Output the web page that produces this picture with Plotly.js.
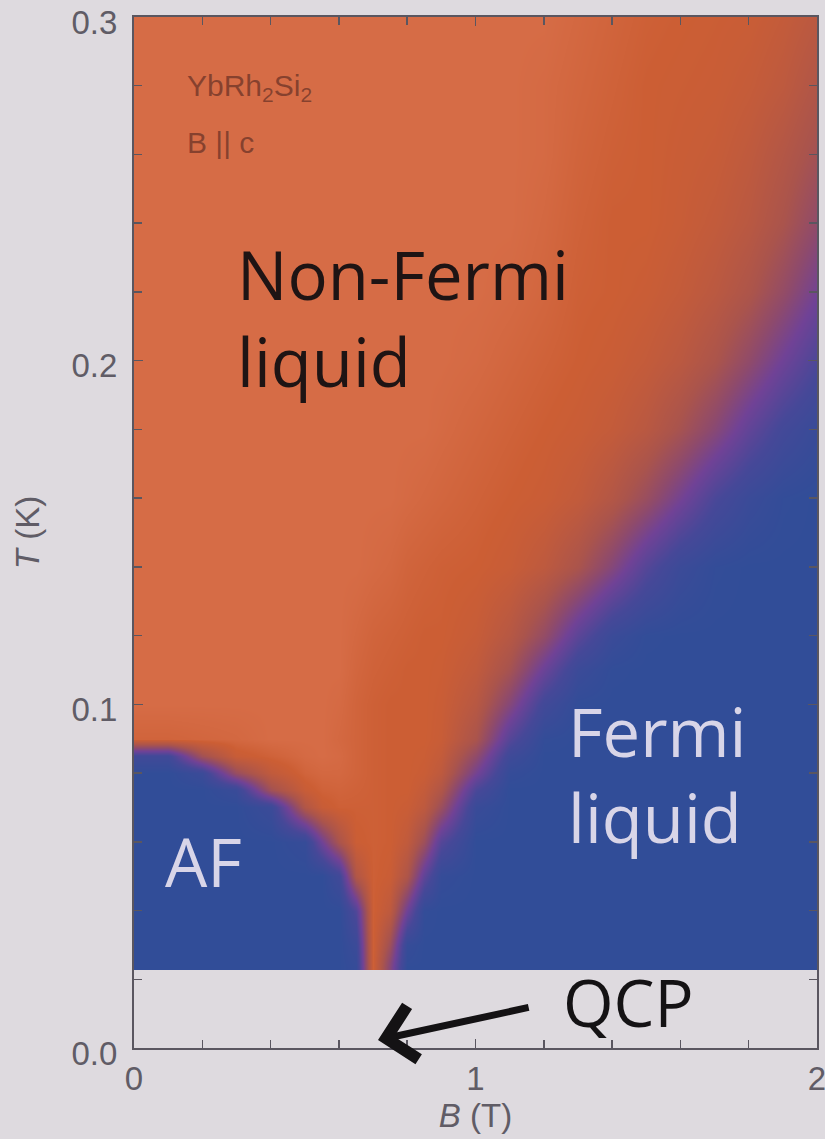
<!DOCTYPE html>
<html><head><meta charset="utf-8">
<script src="https://cdn.plot.ly/plotly-3.0.1.min.js"></script>
<style>html,body{margin:0;padding:0;background:#dedadf;} #chart{width:825px;height:1139px;}</style>
</head><body><div id="chart"></div>
<script>
// Magnetic field B (T) sample columns
const fieldB = [0, 0.1, 0.2, 0.3, 0.4, 0.5, 0.55, 0.6, 0.65, 0.7, 0.75, 0.8, 0.85, 0.9, 1.0, 1.1, 1.2, 1.3, 1.4, 1.5, 1.6, 1.7, 1.8, 1.9, 2.0];
// Temperature T (K) sample rows
const tempT = [0.0235, 0.025, 0.03, 0.04, 0.05, 0.06, 0.07, 0.075, 0.08, 0.085, 0.09, 0.10, 0.11, 0.12, 0.14, 0.16, 0.18, 0.20, 0.22, 0.24, 0.26, 0.28, 0.30];
// Resistivity exponent n read from the colour map (1 = non-Fermi liquid, 2 = Fermi liquid / AF), one row per temperature
const n_T0235 = [2,2,2,2,2,2,2,2,1.95,1.06,1.5,2,2,2,2,2,2,2,2,2,2,2,2,2,2];
const n_T025  = [2,2,2,2,2,2,2,2,1.94,1.06,1.48,1.98,2,2,2,2,2,2,2,2,2,2,2,2,2];
const n_T03   = [2,2,2,2,2,2,2,2,1.9,1.06,1.37,1.95,2,2,2,2,2,2,2,2,2,2,2,2,2];
const n_T04   = [2,2,2,2,2,2,2,2,1.75,1.06,1.17,1.61,1.98,2,2,2,2,2,2,2,2,2,2,2,2];
const n_T05   = [2,2,2,2,2,2,2,1.85,1.25,1.06,1.09,1.27,1.68,1.96,2,2,2,2,2,2,2,2,2,2,2];
const n_T06   = [2,2,2,2,2,1.95,1.6,1.3,1.08,1.06,1.07,1.15,1.37,1.73,2,2,2,2,2,2,2,2,2,2,2];
const n_T07   = [2,2,2,2,1.9,1.25,1.1,1.06,1.06,1.06,1.07,1.09,1.17,1.38,1.92,2,2,2,2,2,2,2,2,2,2];
const n_T075  = [2,2,2,1.92,1.35,1.1,1.05,1.04,1.05,1.06,1.07,1.07,1.13,1.26,1.78,2,2,2,2,2,2,2,2,2,2];
const n_T08   = [2,2,1.9,1.4,1.15,1.04,1.02,1.02,1.04,1.06,1.07,1.07,1.09,1.17,1.58,1.96,2,2,2,2,2,2,2,2,2];
const n_T085  = [1.85,1.85,1.35,1.1,1.05,1.01,1.0,1.01,1.04,1.06,1.07,1.07,1.08,1.13,1.44,1.87,2,2,2,2,2,2,2,2,2];
const n_T09   = [1.04,1.04,1.03,1.02,1.0,1.0,1.0,1.02,1.04,1.06,1.07,1.07,1.07,1.1,1.3,1.73,1.98,2,2,2,2,2,2,2,2];
const n_T10   = [1,1,1,1,1,1,1,1.01,1.04,1.06,1.07,1.07,1.07,1.09,1.21,1.5,1.84,1.99,2,2,2,2,2,2,2];
const n_T11   = [1,1,1,1,1,1,1,1,1.03,1.05,1.06,1.07,1.07,1.08,1.15,1.33,1.63,1.9,1.99,2,2,2,2,2,2];
const n_T12   = [1,1,1,1,1,1,1,1,1.02,1.04,1.05,1.06,1.07,1.07,1.11,1.22,1.42,1.7,1.91,1.99,2,2,2,2,2];
const n_T14   = [1,1,1,1,1,1,1,1,1,1.01,1.02,1.04,1.05,1.06,1.07,1.1,1.17,1.3,1.5,1.73,1.9,1.98,2,2,2];
const n_T16   = [1,1,1,1,1,1,1,1,1,1,1,1.01,1.02,1.03,1.05,1.07,1.09,1.14,1.24,1.39,1.58,1.78,1.91,1.98,2];
const n_T18   = [1,1,1,1,1,1,1,1,1,1,1,1,1,1.01,1.03,1.05,1.07,1.09,1.13,1.2,1.32,1.48,1.67,1.83,1.93];
const n_T20   = [1,1,1,1,1,1,1,1,1,1,1,1,1,1,1.01,1.03,1.05,1.07,1.09,1.13,1.19,1.29,1.44,1.61,1.77];
const n_T22   = [1,1,1,1,1,1,1,1,1,1,1,1,1,1,1,1.01,1.03,1.06,1.07,1.09,1.13,1.19,1.28,1.42,1.59];
const n_T24   = [1,1,1,1,1,1,1,1,1,1,1,1,1,1,1,1,1.02,1.05,1.07,1.07,1.1,1.14,1.2,1.3,1.44];
const n_T26   = [1,1,1,1,1,1,1,1,1,1,1,1,1,1,1,1,1.01,1.04,1.06,1.07,1.09,1.11,1.16,1.24,1.34];
const n_T28   = [1,1,1,1,1,1,1,1,1,1,1,1,1,1,1,1,1.01,1.03,1.05,1.07,1.08,1.09,1.12,1.17,1.26];
const n_T30   = [1,1,1,1,1,1,1,1,1,1,1,1,1,1,1,1,1,1.02,1.04,1.06,1.07,1.08,1.09,1.13,1.19];

const xTickVals = [0, 1, 2];
const xTickText = ['0', '1', '2'];
const yTickVals = [0, 0.1, 0.2, 0.3];
const yTickText = ['0.0', '0.1', '0.2', '0.3'];

const zRows = [n_T0235, n_T025, n_T03, n_T04, n_T05, n_T06, n_T07, n_T075, n_T08, n_T085, n_T09,
  n_T10, n_T11, n_T12, n_T14, n_T16, n_T18, n_T20, n_T22, n_T24, n_T26, n_T28, n_T30];

const trace = {
  type: 'heatmap', x: fieldB, y: tempT, z: zRows,
  zmin: 1, zmax: 2, zsmooth: 'best', showscale: false, hoverinfo: 'skip',
  colorscale: [
    [0, 'rgb(214,108,70)'],
    [0.07, 'rgb(204,94,52)'],
    [0.3, 'rgb(170,84,76)'],
    [0.45, 'rgb(142,74,108)'],
    [0.6, 'rgb(112,66,150)'],
    [0.8, 'rgb(70,72,152)'],
    [1, 'rgb(49,77,152)']
  ]
};

const axisCol = '#5a5660';
const tickFont = {family: 'Liberation Sans, Arial, sans-serif', size: 33, color: '#605c66'};
const big = {family: 'Open Sans, sans-serif', size: 67};

const layout = {
  width: 825, height: 1139,
  margin: {l: 134, r: 8, t: 17, b: 91},
  paper_bgcolor: '#dedadf', plot_bgcolor: '#dedadf',
  showlegend: false,
  font: {family: 'Liberation Sans, Arial, sans-serif', color: '#605c66'},
  xaxis: {
    range: [0, 2], tickvals: xTickVals, ticktext: xTickText,
    ticks: 'inside', ticklen: 9, tickwidth: 1.5, tickcolor: axisCol,
    showline: true, linecolor: axisCol, linewidth: 2, mirror: 'ticks',
    showgrid: false, zeroline: false, tickfont: tickFont, ticklabelstandoff: 0,
    ticklabeloverflow: 'allow',
    minor: {dtick: 0.2, ticks: 'inside', ticklen: 8, tickwidth: 1.5, tickcolor: axisCol, showgrid: false},
    title: {text: '<i>B</i> (T)', font: {size: 33, color: '#605c66'}, standoff: 4}
  },
  yaxis: {
    range: [0, 0.3], tickvals: yTickVals, ticktext: yTickText,
    ticks: 'inside', ticklen: 9, tickwidth: 1.5, tickcolor: axisCol,
    showline: true, linecolor: axisCol, linewidth: 2, mirror: 'ticks',
    showgrid: false, zeroline: false, tickfont: tickFont, ticklabelstandoff: 8,
    ticklabelshift: 5, ticklabeloverflow: 'allow',
    minor: {dtick: 0.02, ticks: 'inside', ticklen: 8, tickwidth: 1.5, tickcolor: axisCol, showgrid: false},
    title: {text: '<i>T</i> (K)', font: {size: 33, color: '#605c66'}, standoff: 22}
  },
  annotations: [
    {xref: 'x', yref: 'y', x: 0.149, y: 0.2796, xanchor: 'left', yanchor: 'middle', showarrow: false,
     text: 'YbRh<sub>2</sub>Si<sub>2</sub>', font: {family: 'Liberation Sans, Arial, sans-serif', size: 30, color: 'rgba(120,58,42,0.85)'}},
    {xref: 'x', yref: 'y', x: 0.149, y: 0.2636, xanchor: 'left', yanchor: 'middle', showarrow: false,
     text: 'B || c', font: {family: 'Liberation Sans, Arial, sans-serif', size: 30, color: 'rgba(120,58,42,0.85)'}},
    {xref: 'x', yref: 'y', x: 0.296, y: 0.2252, xanchor: 'left', yanchor: 'middle', showarrow: false,
     text: 'Non-Fermi', font: Object.assign({color: '#1e1414'}, big)},
    {xref: 'x', yref: 'y', x: 0.296, y: 0.1999, xanchor: 'left', yanchor: 'middle', showarrow: false,
     text: 'liquid', font: Object.assign({color: '#1e1414'}, big)},
    {xref: 'x', yref: 'y', x: 1.265, y: 0.0922, xanchor: 'left', yanchor: 'middle', showarrow: false,
     text: 'Fermi', font: Object.assign({color: '#d8d5e8'}, big)},
    {xref: 'x', yref: 'y', x: 1.265, y: 0.0672, xanchor: 'left', yanchor: 'middle', showarrow: false,
     text: 'liquid', font: Object.assign({color: '#d8d5e8'}, big)},
    {xref: 'x', yref: 'y', x: 0.085, y: 0.0544, xanchor: 'left', yanchor: 'middle', showarrow: false,
     text: 'AF', font: Object.assign({color: '#d8d5e8'}, big)},
    {xref: 'x', yref: 'y', x: 1.25, y: 0.0134, xanchor: 'left', yanchor: 'middle', showarrow: false,
     text: 'QCP', font: {family: 'Open Sans, sans-serif', size: 65, color: '#141214'}},
    {xref: 'x', yref: 'y', x: 0.7145, y: 0.0023, axref: 'x', ayref: 'y', ax: 1.16, ay: 0.0119,
     text: '', showarrow: true, arrowhead: 4, arrowsize: 1.5, arrowwidth: 7, arrowcolor: '#141214'}
  ]
};

Plotly.newPlot('chart', [trace], layout, {staticPlot: true, displayModeBar: false});
</script>
</body></html>
